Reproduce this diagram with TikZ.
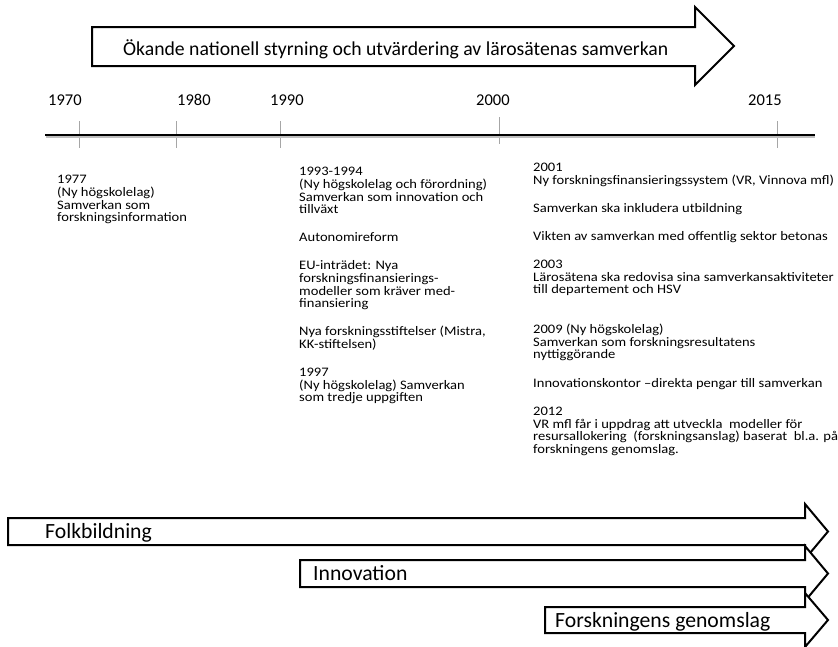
\documentclass[tikz,border=0pt]{standalone}
\usepackage{fontspec}
\setmainfont{Carlito}
\newfontfamily\notefont[FakeStretch=1.12]{Carlito}
\usepackage{tikz}
\setlength{\lineskiplimit}{-20pt}

\begin{document}
\begin{tikzpicture}[x=1pt,y=-1pt,
  every node/.style={inner sep=0pt},
  blockarrow/.style={line width=2pt,fill=white,line join=miter},
  tickline/.style={black!35,line width=0.8pt},
  headlbl/.style={anchor=base west,font=\fontsize{19.7}{22}\selectfont},
  yearlbl/.style={anchor=base west,font=\fontsize{16.5}{19}\selectfont},
  note/.style={anchor=north west,align=left,
    font=\notefont\fontsize{13}{12.7}\selectfont,
    execute at begin node=\rule{0pt}{10pt}},
  bandlbl/.style={anchor=base west,font=\fontsize{21.7}{24}\selectfont}]

\useasboundingbox (0,0) rectangle (838,646);

% top arrow
\draw [blockarrow] (92,27) -- (695,27) -- (695,7) -- (734,46) -- (695,85) -- (695,66) -- (92,66) -- cycle;
\node [headlbl] (trend) at (123,55) {Ökande nationell styrning och utvärdering av lärosätenas samverkan};

% time axis
\draw [tickline] (79,121) -- (79,148);
\draw [tickline] (176,121) -- (176,148);
\draw [tickline] (280,121) -- (280,148);
\draw [tickline] (499,117) -- (499,144);
\draw [tickline] (777,121) -- (777,148);
\draw [black!25,line width=2.4pt] (46,136.6) -- (815,136.6);
\draw [line width=2.4pt] (45,135) -- (815,135);

\node [yearlbl] (y1970) at (48,105) {1970};
\node [yearlbl] (y1980) at (177,105) {1980};
\node [yearlbl] (y1990) at (270,105) {1990};
\node [yearlbl] (y2000) at (476,105) {2000};
\node [yearlbl] (y2015) at (748,105) {2015};

% events (first baseline 10pt below the node top)
\node [note] (sev) at (57,175) {1977\\(Ny högskolelag)\\Samverkan som\\forskningsinformation};

\node [note] (nine) at (299,167) {1993-1994\\(Ny högskolelag och förordning)\\Samverkan som innovation och\\tillväxt\\[15.3pt]
Autonomireform\\[15.3pt]
EU-inträdet: Nya\\forskningsfinansierings-\\modeller som kräver med-\\finansiering\\[15.3pt]
Nya forskningsstiftelser (Mistra,\\KK-stiftelsen)\\[15.3pt]
1997\\(Ny högskolelag) Samverkan\\som tredje uppgiften};

\node [note] (twok) at (533,163) {2001\\Ny forskningsfinansieringssystem (VR, Vinnova mfl)\\[15pt]
Samverkan ska inkludera utbildning\\[16pt]
Vikten av samverkan med offentlig sektor betonas\\[15pt]
2003\\Lärosätena ska redovisa sina samverkansaktiviteter\\till departement och HSV\\[27pt]
2009 (Ny högskolelag)\\Samverkan som forskningsresultatens\\nyttiggörande\\[15.5pt]
Innovationskontor –direkta pengar till samverkan\\[15.5pt]
2012\\VR mfl får i uppdrag att utveckla\ \ modeller för\\resursallokering\ \ (forskningsanslag) baserat\ \ bl.a. på\\forskningens genomslag.};

% bottom arrows
\draw [blockarrow] (8,518) -- (805,518) -- (805,504) -- (828,531.5) -- (805,559) -- (805,545) -- (8,545) -- cycle;
\node [bandlbl] (folk) at (45,538.5) {Folkbildning};

\draw [blockarrow] (300,560) -- (805,560) -- (805,546) -- (828,573.5) -- (805,601) -- (805,587) -- (300,587) -- cycle;
\node [bandlbl] (inno) at (313,580.5) {Innovation};

\draw [blockarrow] (545,607) -- (805,607) -- (805,593) -- (828,620) -- (805,647) -- (805,633) -- (545,633) -- cycle;
\node [bandlbl] (genom) at (555,627) {Forskningens genomslag};

\end{tikzpicture}
\end{document}
